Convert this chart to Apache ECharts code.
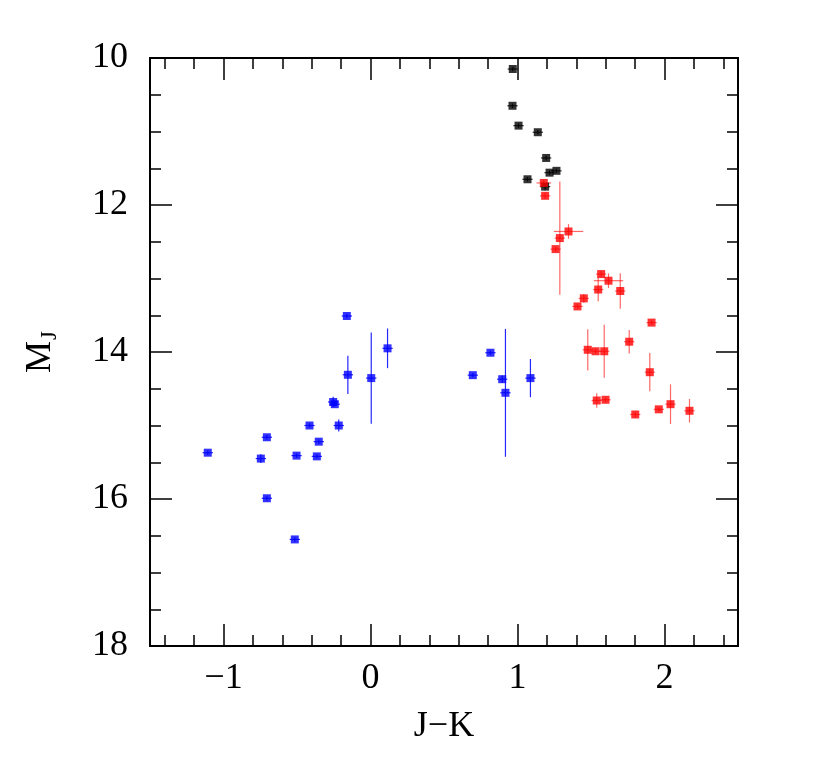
<!DOCTYPE html>
<html>
<head>
<meta charset="utf-8">
<script src="https://cdn.jsdelivr.net/npm/echarts@6/dist/echarts.min.js"></script>
<style>
  html, body { margin: 0; padding: 0; background: #fff; }
  #chart { width: 830px; height: 763px; }
</style>
</head>
<body>
<div id="chart"></div>
<script>
// J-K colour vs absolute J magnitude
const blackJK = [0.968, 0.966, 1.007, 1.138, 1.195, 1.218, 1.265, 1.068, 1.188];
const blackMJ = [10.15, 10.65, 10.92, 11.01, 11.36, 11.56, 11.535, 11.65, 11.75];
const blackXErr = [0.035, 0.035, 0.035, 0.035, 0.035, 0.035, 0.035, 0.035, 0.035];
const blackYErr = [0.03, 0.03, 0.03, 0.03, 0.03, 0.03, 0.03, 0.03, 0.05];

const redJK = [1.179, 1.188, 1.347, 1.288, 1.259, 1.569, 1.619, 1.549, 1.699, 1.451, 1.408, 1.912,
  1.760, 1.478, 1.531, 1.590, 1.900, 1.539, 1.599, 1.801, 1.961, 2.041, 2.170];
const redMJ = [11.70, 11.875, 12.36, 12.45, 12.60, 12.94, 13.03, 13.15, 13.17, 13.27, 13.38, 13.60,
  13.86, 13.97, 13.99, 13.99, 14.275, 14.66, 14.65, 14.85, 14.78, 14.71, 14.80];
const redXErr = [0.05, 0.035, 0.1, 0.035, 0.035, 0.035, 0.1, 0.035, 0.035, 0.035, 0.035, 0.035,
  0.035, 0.035, 0.035, 0.035, 0.035, 0.035, 0.035, 0.035, 0.035, 0.035, 0.035];
const redYErr = [0.05, 0.04, 0.1, 0.77, 0.03, 0.04, 0.1, 0.16, 0.24, 0.06, 0.03, 0.03,
  0.16, 0.28, 0.03, 0.36, 0.26, 0.1, 0.03, 0.04, 0.03, 0.27, 0.16];

const blueJK = [-0.161, 0.116, -0.154, 0.005, -0.254, -0.243, -0.415, -0.216, -0.352, -0.705, -1.107,
  -0.746, -0.503, -0.365, -0.705, -0.515, 0.816, 0.696, 0.896, 0.918, 1.088];
const blueMJ = [13.51, 13.95, 14.31, 14.355, 14.68, 14.71, 15.0, 15.0, 15.22, 15.16, 15.37,
  15.45, 15.41, 15.42, 15.99, 16.55, 14.01, 14.315, 14.37, 14.555, 14.355];
const blueXErr = [0.035, 0.035, 0.035, 0.035, 0.035, 0.035, 0.035, 0.035, 0.035, 0.035, 0.035,
  0.035, 0.035, 0.035, 0.035, 0.035, 0.035, 0.035, 0.035, 0.035, 0.035];
const blueYErr = [0.03, 0.27, 0.26, 0.62, 0.07, 0.03, 0.03, 0.08, 0.03, 0.03, 0.03,
  0.06, 0.03, 0.03, 0.03, 0.03, 0.03, 0.03, 0.05, 0.87, 0.26];

const xMajor = [-1, 0, 1, 2];
const xMinor = [-1.4, -1.2, -0.8, -0.6, -0.4, -0.2, 0.2, 0.4, 0.6, 0.8, 1.2, 1.4, 1.6, 1.8, 2.2, 2.4];
const yMajor = [10, 12, 14, 16, 18];
const yMinor = [10.5, 11, 11.5, 12.5, 13, 13.5, 14.5, 15, 15.5, 16.5, 17, 17.5];

const font = "'Liberation Serif', 'DejaVu Serif', serif";

function rows(jk, mj, xe, ye) {
  return jk.map((v, i) => [v, mj[i], xe[i], ye[i]]);
}

function errBars(name, data, color) {
  return {
    name: name + " err",
    type: "custom",
    xAxisIndex: 0,
    yAxisIndex: 0,
    z: 2,
    data: data,
    renderItem: function (params, api) {
      const x = api.value(0), y = api.value(1), ex = api.value(2), ey = api.value(3);
      const l = api.coord([x - ex, y]), r = api.coord([x + ex, y]);
      const t = api.coord([x, y - ey]), b = api.coord([x, y + ey]);
      const st = { stroke: color, lineWidth: 1.2 };
      return {
        type: "group",
        children: [
          { type: "line", shape: { x1: l[0], y1: l[1], x2: r[0], y2: r[1] }, style: st },
          { type: "line", shape: { x1: t[0], y1: t[1], x2: b[0], y2: b[1] }, style: st },
        ],
      };
    },
  };
}

function points(name, data, color) {
  return {
    name: name,
    type: "scatter",
    xAxisIndex: 0,
    yAxisIndex: 0,
    z: 3,
    symbol: "rect",
    symbolSize: 8,
    itemStyle: { color: color },
    data: data.map((d) => [d[0], d[1]]),
  };
}

const lineStyle = { color: "#000", width: 2 };

function xAx(pos, ticks, len, labels) {
  return {
    type: "value",
    position: pos,
    min: -1.5,
    max: 2.5,
    axisLine: { show: true, onZero: false, lineStyle: lineStyle },
    axisTick: { show: true, inside: true, length: len, customValues: ticks, lineStyle: { color: "#000", width: 1.5 } },
    axisLabel: labels
      ? {
          show: true,
          customValues: ticks,
          margin: 15,
          color: "#000",
          fontFamily: font,
          fontSize: 36,
          formatter: (v) => (v < 0 ? "\u2212" + Math.abs(v) : String(v)),
        }
      : { show: false },
    splitLine: { show: false },
    name: labels ? "J\u2212K" : "",
    nameLocation: "middle",
    nameGap: 63,
    nameTextStyle: { color: "#000", fontFamily: font, fontSize: 36 },
  };
}

function yAx(pos, ticks, len, labels) {
  return {
    type: "value",
    position: pos,
    min: 10,
    max: 18,
    inverse: true,
    axisLine: { show: true, onZero: false, lineStyle: lineStyle },
    axisTick: { show: true, inside: true, length: len, customValues: ticks, lineStyle: { color: "#000", width: 1.5 } },
    axisLabel: labels
      ? { show: true, customValues: ticks, margin: 22, color: "#000", fontFamily: font, fontSize: 36 }
      : { show: false },
    splitLine: { show: false },
    name: labels ? "{m|M}{s|J}" : "",
    nameLocation: "middle",
    nameRotate: 90,
    nameGap: 89,
    nameTextStyle: {
      color: "#000",
      fontFamily: font,
      rich: {
        m: { fontFamily: font, fontSize: 36, color: "#000" },
        s: { fontFamily: font, fontSize: 23, color: "#000", padding: [17, 0, 0, 1] },
      },
    },
  };
}

const blackData = rows(blackJK, blackMJ, blackXErr, blackYErr);
const redData = rows(redJK, redMJ, redXErr, redYErr);
const blueData = rows(blueJK, blueMJ, blueXErr, blueYErr);

const chart = echarts.init(document.getElementById("chart"), null, { renderer: "canvas" });
chart.setOption({
  backgroundColor: "#fff",
  animation: false,
  grid: { left: 150, right: 92, top: 58, bottom: 117 },
  xAxis: [
    xAx("bottom", xMajor, 22, true),
    xAx("bottom", xMinor, 11, false),
    xAx("top", xMajor, 22, false),
    xAx("top", xMinor, 11, false),
  ],
  yAxis: [
    yAx("left", yMajor, 22, true),
    yAx("left", yMinor, 11, false),
    yAx("right", yMajor, 22, false),
    yAx("right", yMinor, 11, false),
  ],
  series: [
    errBars("black", blackData, "rgba(0,0,0,0.8)"),
    errBars("red", redData, "rgba(255,0,0,0.6)"),
    errBars("blue", blueData, "rgba(0,0,255,0.85)"),
    points("black", blackData, "#000"),
    points("red", redData, "#ff0000"),
    points("blue", blueData, "#0000ff"),
  ],
});
</script>
</body>
</html>
